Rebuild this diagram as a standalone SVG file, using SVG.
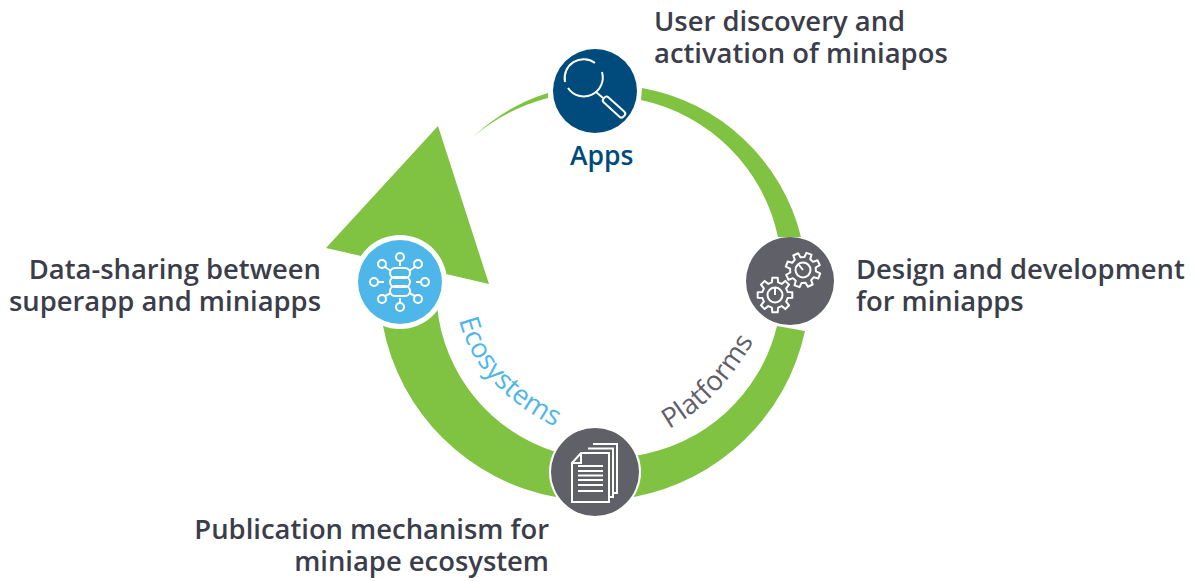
<svg xmlns="http://www.w3.org/2000/svg" width="1197" height="581" viewBox="0 0 1197 581">
<style>
.t{font-family:"Open Sans","Liberation Sans",sans-serif;font-weight:600;font-size:27.4px;fill:#3b3e4a}
.c{font-family:"Open Sans","Liberation Sans",sans-serif;font-weight:500;font-size:27.4px}
.i{fill:none;stroke:#fff;stroke-width:2}
.g{fill:#80c242}
</style>
<defs>
<path id="gear" d="M-3.100-12.600L-2.700-17.300L2.700-17.300L3.100-12.600L6.700-11.100L10.300-14.100L14.100-10.300L11.100-6.700L12.600-3.100L17.300-2.700L17.300 2.700L12.600 3.100L11.100 6.700L14.100 10.300L10.300 14.100L6.700 11.100L3.100 12.600L2.700 17.300L-2.700 17.300L-3.100 12.600L-6.700 11.100L-10.300 14.100L-14.100 10.300L-11.100 6.700L-12.600 3.100L-17.300 2.700L-17.300-2.700L-12.600-3.100L-11.100-6.700L-14.100-10.300L-10.300-14.100L-6.700-11.100Z" stroke-linejoin="round"/>
<path id="arc-eco" d="M459 320Q478 395 575 436"/>
<path id="arc-plat" d="M669 429Q723 399 760 330"/>
</defs>
<rect width="1197" height="581" fill="#fff"/>
<g id="connectors">
<path class="g" d="M642 88A200 200 0 0 1 801 237L778 237A178 178 0 0 0 641 100Z"/>
<path class="g" d="M805 331A215 215 0 0 1 634 497L634 456A172 172 0 0 0 777 326Z"/>
<path class="g" d="M556 497A215 215 0 0 1 383 326L437 306A170 170 0 0 0 556 452Z"/>
<path class="g" d="M326 248L438 126L489 284L446 274A47 47 0 0 0 361 256Z"/>
<path class="g" d="M548 93L548 98A190 190 0 0 0 473 137A190 190 0 0 1 548 93Z"/>
</g>
<g id="node-apps">
<circle cx="595" cy="91" r="42" fill="#004a7c"/>
<path class="i" d="M565 82A19 19 0 0 1 595 63M568 88A19 19 0 0 0 602 72"/>
<path class="i" d="M596 92L603 98"/>
<rect class="i" x="0" y="-3.500" width="27" height="7" rx="3" transform="translate(604 98) rotate(42)"/>
<text x="570" y="165" font-family="Open Sans, Liberation Sans, sans-serif" font-weight="600" font-size="26.500" fill="#004a7c">Apps</text>
</g>
<g id="node-design">
<circle cx="790" cy="281" r="44" fill="#5f6068"/>
<use href="#gear" class="i" x="775" y="295"/>
<use href="#gear" class="i" transform="translate(803 270) rotate(20)"/>
<circle cx="775" cy="295" r="7.500" class="i"/>
<circle cx="803" cy="270" r="7.500" class="i"/>
<path class="i" d="M803 270L799 265M775 295V288"/>
</g>
<g id="node-publication">
<circle cx="595" cy="472" r="46" fill="#fff"/>
<circle cx="595" cy="472" r="44" fill="#5f6068"/>
<path class="i" d="M572 463L581 453H609V502H572ZM572 463H581V453M588 448.500H613V497H609M593 444H617V493H613V448.500"/>
<path class="i" d="M578 466H603M578 471H603M578 475.500H603M578 480H603M578 485H603M578 491H603"/>
</g>
<g id="node-data">
<circle cx="400" cy="282" r="47" fill="#fff"/>
<circle cx="400" cy="282" r="42" fill="#4fb6ea"/>
<g class="i">
<rect x="390" y="268" width="20" height="10" rx="5"/>
<rect x="390" y="277" width="20" height="10" rx="5"/>
<rect x="390" y="286" width="20" height="10" rx="5"/>
<circle cx="400" cy="257" r="4"/><circle cx="382" cy="264" r="4"/><circle cx="418" cy="264" r="4"/>
<circle cx="374" cy="282" r="4"/><circle cx="425" cy="282" r="4"/>
<circle cx="382" cy="299" r="4"/><circle cx="418" cy="299" r="4"/><circle cx="400" cy="307" r="4"/>
<path d="M400 261V266M385 267L391 271M415 267L409 271M378 282H384M416 282H421M385 296L391 293M415 296L409 293M400 298V303"/>
</g>
</g>
<g id="labels">
<text class="t" x="654" y="31">User discovery and</text>
<text class="t" x="654" y="63">activation of miniapos</text>
<text class="t" x="856" y="279">Design and development</text>
<text class="t" x="856" y="311">for miniapps</text>
<text class="t" x="321" y="279" text-anchor="end">Data-sharing between</text>
<text class="t" x="321" y="311" text-anchor="end">superapp and miniapps</text>
<text class="t" x="549" y="539" text-anchor="end">Publication mechanism for</text>
<text class="t" x="549" y="571" text-anchor="end">miniape ecosystem</text>
<text class="c" fill="#5f6068"><textPath href="#arc-plat">Platforms</textPath></text>
<text class="c" fill="#4fb6ea"><textPath href="#arc-eco">Ecosystems</textPath></text>
</g>
</svg>
